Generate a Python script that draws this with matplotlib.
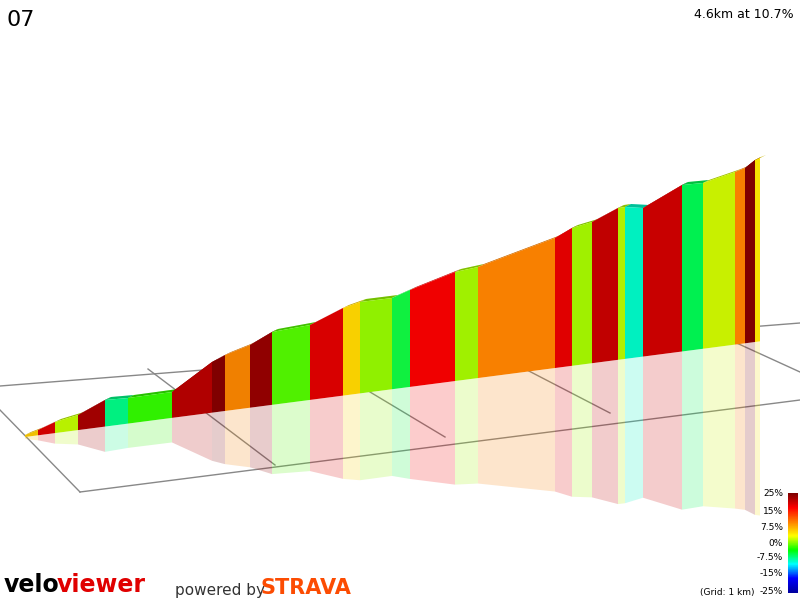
import matplotlib
matplotlib.use("Agg")
import matplotlib.pyplot as plt
from matplotlib.patches import Polygon
from matplotlib.colors import LinearSegmentedColormap
import numpy as np

bx = [25,38,55,78,105,128,172,212,225,250,272,310,343,360,392,410,455,478,555,572,592,618,625,643,682,703,735,745,755,760]
by = [435,430,422,415,400,398,392,362,355,345,332,325,308,302,298,290,272,267,238,228,222,208,207,208,185,183,172,168,160,158]
seg_colors = ["#f0c000","#d00000","#b8f000","#a00000","#00f080","#30f000","#b00000","#800000",
              "#f08000","#900000","#50f000","#d80000","#f8d000","#90f000","#10f040","#f00000",
              "#a0f000","#f88000","#e00000","#a0f000","#c00000","#b0f000","#00f0c0","#c80000",
              "#00f050","#c8f000","#f88000","#800000","#f8e000"]

def ground(x):
    return 437 - (x - 25) * 95 / 730

fig = plt.figure(figsize=(8, 6), dpi=100)
ax = fig.add_axes([0, 0, 1, 1])
ax.set_xlim(0, 800); ax.set_ylim(600, 0); ax.axis("off")

# floor grid
gc = "#888888"
for (x0,y0,x1,y1) in [(0,386,800,323),(80,492,800,400),(0,410,80,492),
                      (148,369,275,465),(370,392,445,437),(525,369,610,413),(730,340,800,372)]:
    ax.plot([x0,x1],[y0,y1],color=gc,lw=1,zorder=0.5)

for i, c in enumerate(seg_colors):
    x0, x1 = bx[i], bx[i+1]
    y0, y1 = by[i], by[i+1]
    g0, g1 = ground(x0), ground(x1)
    r0 = g0 + (g0 - y0) * 0.95; r1 = g1 + (g1 - y1) * 0.95
    ax.add_patch(Polygon([(x0,g0),(x1,g1),(x1,r1),(x0,r0)], closed=True, fc=c, alpha=0.2, ec="none", zorder=1))
    top = [(x0,y0),(x1,y1),(x1+6,y1-3),(x0+6,y0-3)]
    ax.add_patch(Polygon(top, closed=True, fc=c, ec="none", zorder=2))
    ax.add_patch(Polygon(top, closed=True, fc="black", alpha=0.2, ec="none", zorder=2))
    ax.add_patch(Polygon([(x0,y0),(x1,y1),(x1,g1),(x0,g0)], closed=True, fc=c, ec="none", zorder=3))

ax.text(6, 20, "07", fontsize=16, va="center", ha="left")
ax.text(794, 14, "4.6km at 10.7%", fontsize=9, va="center", ha="right")

cmap = LinearSegmentedColormap.from_list("g", ["#0000a0","#0000ff","#00ffff","#00ff00","#ffff00","#ff8000","#ff0000","#800000"])
grad = np.linspace(1, 0, 100).reshape(-1, 1)
ax.imshow(grad, cmap=cmap, extent=[788, 798, 593, 493], aspect="auto", zorder=5)
for lab, y in [("25%",493),("15%",512),("7.5%",528),("0%",543),("-7.5%",558),("-15%",573),("-25%",592)]:
    ax.text(783, y, lab, fontsize=6.5, ha="right", va="center")
ax.text(755, 592, "(Grid: 1 km)", fontsize=6.5, ha="right", va="center")

ax.text(4, 585, "velo", fontsize=17, fontweight="bold", color="black", va="center", ha="left")
ax.text(57, 585, "viewer", fontsize=17, fontweight="bold", color="#e00000", va="center", ha="left")
ax.text(175, 590, "powered by", fontsize=11, color="#333333", va="center", ha="left")
ax.text(260, 588, "STRAVA", fontsize=15, fontweight="bold", color="#fc4c02", va="center", ha="left")

fig.savefig("out.png", dpi=100)
